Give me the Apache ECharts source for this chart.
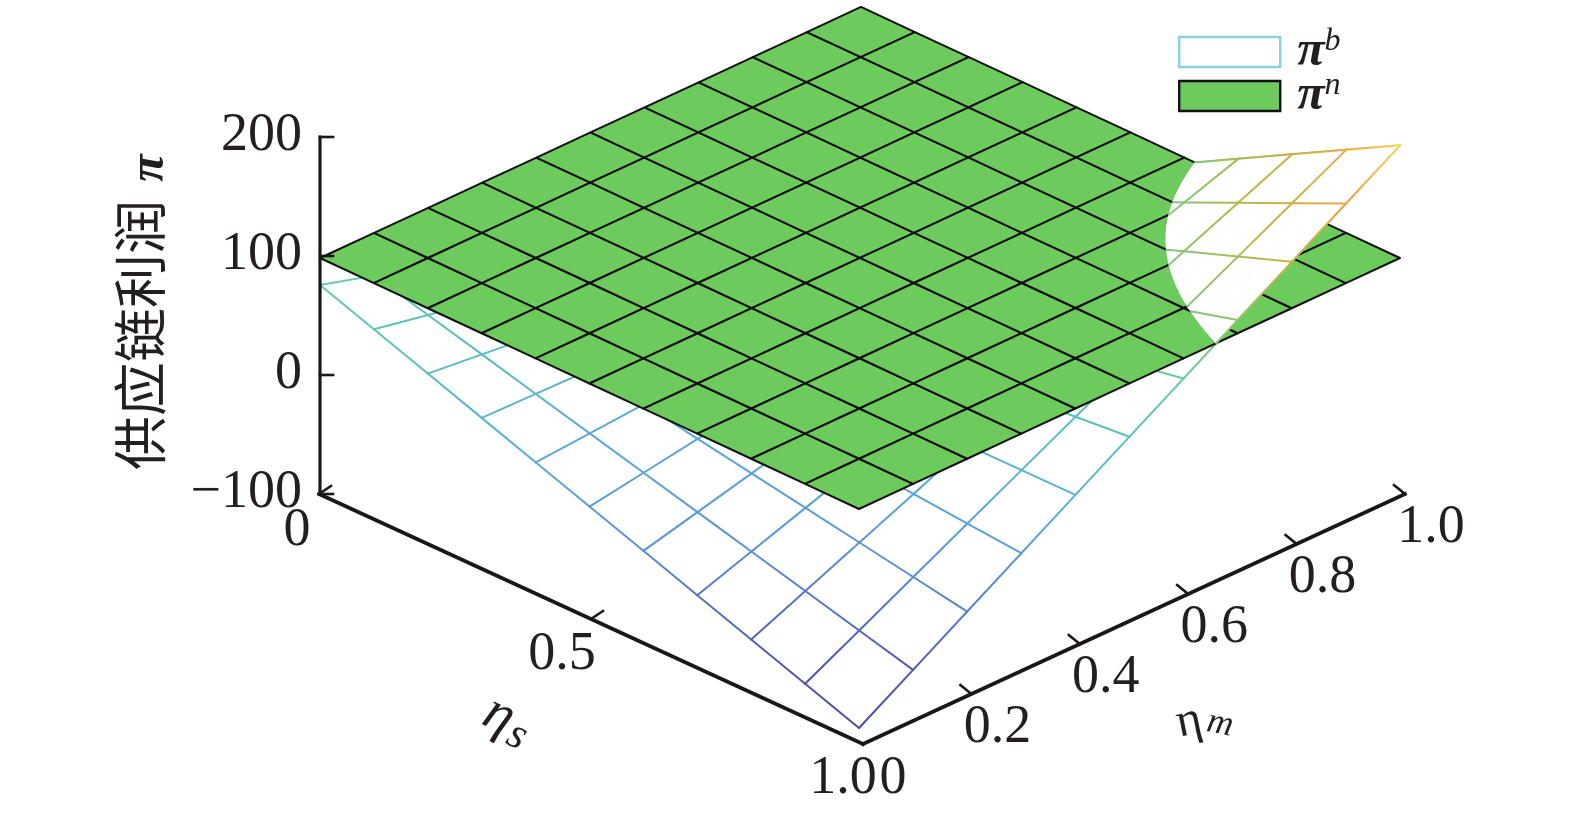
<!DOCTYPE html>
<html>
<head>
<meta charset="utf-8">
<style>html,body{margin:0;padding:0;background:#fff}#c{width:1575px;height:815px}</style>
<script src="https://cdn.jsdelivr.net/npm/echarts@6/dist/echarts.min.js"></script>
</head>
<body>
<div id="c"></div>
<script>
// ---------- data ----------
const etaS = [0, 0.1, 0.2, 0.3, 0.4, 0.5, 0.6, 0.7, 0.8, 0.9, 1.0];
const etaM = [0, 0.1, 0.2, 0.3, 0.4, 0.5, 0.6, 0.7, 0.8, 0.9, 1.0];
// rows: etaM, columns: etaS
const piB = [
  [75.6, 59.4, 43.2, 27.0, 10.7, -5.5, -21.7, -38.0, -54.2, -70.4, -86.6],
  [62.5, 50.4, 38.3, 26.1, 14.0, 1.9, -10.2, -22.3, -34.5, -46.6, -58.7],
  [49.5, 41.5, 33.5, 25.4, 17.4, 9.4, 1.4, -6.6, -14.7, -22.7, -30.7],
  [36.4, 32.5, 28.6, 24.7, 20.8, 16.9, 13.0, 9.0, 5.1, 1.2, -2.7],
  [23.4, 23.6, 23.8, 24.0, 24.2, 24.4, 24.5, 24.7, 24.9, 25.1, 25.3],
  [10.3, 14.6, 18.9, 23.2, 27.5, 31.8, 36.0, 40.3, 44.6, 48.9, 53.2],
  [-2.8, 5.6, 14.0, 22.4, 30.8, 39.2, 47.5, 55.9, 64.3, 72.7, 81.1],
  [-15.8, -3.3, 9.2, 21.7, 34.2, 46.7, 59.2, 71.7, 84.2, 96.7, 109.2],
  [-28.9, -12.3, 4.3, 20.9, 37.5, 54.1, 70.7, 87.3, 103.9, 120.5, 137.1],
  [-41.9, -21.2, -0.5, 20.2, 40.9, 61.6, 82.3, 103.0, 123.7, 144.4, 165.1],
  [-55.0, -30.2, -5.4, 19.4, 44.2, 69.0, 93.8, 118.6, 143.4, 168.2, 193.0]
];
const piN = [
  [98.3, 98.2, 98.1, 98.1, 98.0, 97.9, 97.8, 97.8, 97.7, 97.6, 97.5],
  [98.4, 98.3, 98.2, 98.2, 98.1, 98.0, 97.9, 97.9, 97.8, 97.7, 97.6],
  [98.5, 98.4, 98.3, 98.3, 98.2, 98.1, 98.0, 98.0, 97.9, 97.8, 97.7],
  [98.6, 98.5, 98.4, 98.4, 98.3, 98.2, 98.1, 98.1, 98.0, 97.9, 97.8],
  [98.7, 98.6, 98.5, 98.5, 98.4, 98.3, 98.2, 98.2, 98.1, 98.0, 97.9],
  [98.8, 98.7, 98.6, 98.6, 98.5, 98.4, 98.3, 98.2, 98.2, 98.1, 98.0],
  [98.8, 98.8, 98.7, 98.6, 98.6, 98.5, 98.4, 98.3, 98.3, 98.2, 98.0],
  [98.9, 98.9, 98.8, 98.7, 98.7, 98.6, 98.5, 98.4, 98.4, 98.3, 98.1],
  [99.0, 99.0, 98.9, 98.8, 98.8, 98.7, 98.6, 98.5, 98.5, 98.4, 98.1],
  [99.1, 99.1, 99.0, 98.9, 98.9, 98.8, 98.7, 98.6, 98.6, 98.5, 98.2],
  [99.2, 99.1, 99.0, 99.0, 98.9, 98.8, 98.7, 98.7, 98.6, 98.5, 98.3]
];
const zTicks = [-100, 0, 100, 200];
const zTickLabels = ['\u2212100', '0', '100', '200'];
const sTicks = [0, 0.5];
const sTickLabels = [['0', 0], ['0.5', 0.5], ['1.0', 1.0]];
const mTicks = [0.2, 0.4, 0.6, 0.8, 1.0];
const mTickLabels = [['0', 0], ['0.2', 0.2], ['0.4', 0.4], ['0.6', 0.6], ['0.8', 0.8], ['1.0', 1.0]];
const seriesB = '\u03c0^b';
const seriesN = '\u03c0^n';

// ---------- view: oblique projection of the 3D box onto the page plane ----------
const surfaceView = (s, m, z) => [320 + 539 * s + 541 * m, 375 + 250 * s - 250 * m - 1.19 * z];
const axisView = (s, m) => [319 + 544 * s + 542 * m, 494 + 250 * s - 250 * m];
const zView = z => [320, 375 - 1.19 * z];

const colorStops = [
  [-87, [74, 74, 165]], [-60, [80, 88, 176]], [-40, [86, 112, 196]], [-20, [90, 146, 216]],
  [10, [88, 168, 216]], [30, [88, 184, 200]], [55, [88, 196, 184]], [80, [108, 204, 168]],
  [100, [132, 200, 120]], [125, [181, 184, 72]], [165, [232, 168, 72]], [193, [242, 216, 90]]
];
function colorOf(z) {
  if (z <= colorStops[0][0]) return 'rgb(' + colorStops[0][1].join(',') + ')';
  for (let i = 1; i < colorStops.length; i++) {
    if (z <= colorStops[i][0]) {
      const a = colorStops[i - 1], b = colorStops[i], t = (z - a[0]) / (b[0] - a[0]);
      return 'rgb(' + a[1].map((v, k) => Math.round(v + (b[1][k] - v) * t)).join(',') + ')';
    }
  }
  return 'rgb(' + colorStops[colorStops.length - 1][1].join(',') + ')';
}

const N = etaS.length - 1;
const cells = [];
for (let j = 0; j < N; j++) for (let i = 0; i < N; i++) cells.push([i, j]);
const nodes = [];
for (let j = 0; j <= N; j++) for (let i = 0; i <= N; i++) nodes.push([i, j]);

// surface value inside a cell (u,v in grid units)
function lookup(tbl, u, v) {
  const i = Math.min(N - 1, Math.floor(u)), j = Math.min(N - 1, Math.floor(v));
  const a = u - i, b = v - j;
  return tbl[j][i] * (1 - a) * (1 - b) + tbl[j][i + 1] * a * (1 - b) + tbl[j + 1][i] * (1 - a) * b + tbl[j + 1][i + 1] * a * b;
}
const sAt = u => etaS[0] + (etaS[N] - etaS[0]) * u / N;
const mAt = v => etaM[0] + (etaM[N] - etaM[0]) * v / N;
const gap = (u, v) => lookup(piB, u, v) - lookup(piN, u, v);
const ptB = (api, u, v) => api.coord(surfaceView(sAt(u), mAt(v), lookup(piB, u, v)));
const ptN = (api, u, v) => api.coord(surfaceView(sAt(u), mAt(v), lookup(piN, u, v)));

function meshLine(api, u1, v1, u2, v2) {
  const a = ptB(api, u1, v1), b = ptB(api, u2, v2);
  return {
    type: 'line', shape: { x1: a[0], y1: a[1], x2: b[0], y2: b[1] },
    style: {
      lineWidth: 2, lineCap: 'round',
      stroke: new echarts.graphic.LinearGradient(a[0], a[1], b[0], b[1], [
        { offset: 0, color: colorOf(lookup(piB, u1, v1)) },
        { offset: 1, color: colorOf(lookup(piB, u2, v2)) }
      ], true)
    }
  };
}
function renderB(params, api) {
  const i = api.value(0), j = api.value(1);
  return { type: 'polygon', shape: { points: [ptB(api, i, j), ptB(api, i + 1, j), ptB(api, i + 1, j + 1), ptB(api, i, j + 1)] },
    style: { fill: '#fff', stroke: '#fff', lineWidth: 0.6 } };
}
function renderBLines(params, api) {
  const i = api.value(0), j = api.value(1);
  const children = [];
  if (i < N) children.push(meshLine(api, i, j, i + 1, j));
  if (j < N) children.push(meshLine(api, i, j, i, j + 1));
  return { type: 'group', children };
}
function renderN(params, api) {
  const i = api.value(0), j = api.value(1);
  return { type: 'polygon', shape: { points: [ptN(api, i, j), ptN(api, i + 1, j), ptN(api, i + 1, j + 1), ptN(api, i, j + 1)] },
    style: { fill: '#6dca5c', stroke: '#111', lineWidth: 2, lineJoin: 'round' } };
}
// where pi^b rises above pi^n it hides the plane again
function clipPoly(pts) {
  const out = [];
  for (let k = 0; k < pts.length; k++) {
    const p = pts[k], q = pts[(k + 1) % pts.length];
    const fp = gap(p[0], p[1]), fq = gap(q[0], q[1]);
    if (fp >= 0) out.push(p);
    if ((fp >= 0) !== (fq >= 0)) {
      const t = fp / (fp - fq);
      out.push([p[0] + (q[0] - p[0]) * t, p[1] + (q[1] - p[1]) * t]);
    }
  }
  return out;
}
function renderAbove(params, api) {
  const i = api.value(0), j = api.value(1);
  const children = [];
  const D = 6;
  for (let a = 0; a < D; a++) for (let b = 0; b < D; b++) {
    const u = i + a / D, v = j + b / D, d = 1 / D;
    const poly = clipPoly([[u, v], [u + d, v], [u + d, v + d], [u, v + d]]);
    if (poly.length > 2) children.push({ type: 'polygon',
      shape: { points: poly.map(p => ptB(api, p[0], p[1])) },
      style: { fill: '#fff', stroke: '#fff', lineWidth: 1 } });
  }
  return { type: 'group', children };
}
function clippedEdge(api, u1, v1, u2, v2) {
  const f1 = gap(u1, v1), f2 = gap(u2, v2);
  if (f1 < 0 && f2 < 0) return null;
  if (f1 >= 0 && f2 >= 0) return meshLine(api, u1, v1, u2, v2);
  const t = f1 / (f1 - f2);
  const um = u1 + (u2 - u1) * t, vm = v1 + (v2 - v1) * t;
  return f1 >= 0 ? meshLine(api, u1, v1, um, vm) : meshLine(api, um, vm, u2, v2);
}
function renderAboveLines(params, api) {
  const i = api.value(0), j = api.value(1);
  const children = [];
  if (i < N) { const e = clippedEdge(api, i, j, i + 1, j); if (e) children.push(e); }
  if (j < N) { const e = clippedEdge(api, i, j, i, j + 1); if (e) children.push(e); }
  return { type: 'group', children };
}

const INK = '#231f20';
const SERIF = '"Liberation Serif","Times New Roman",serif';
const labelFont = '54px ' + SERIF;
const centered = { align: 'center', verticalAlign: 'middle', textAlign: 'center', textVerticalAlign: 'middle' };
function label(api, p, text, dx, dy) {
  const c = api.coord(p);
  return { type: 'text', x: c[0] + dx, y: c[1] + dy,
    style: Object.assign({ text, font: labelFont, fill: INK }, centered) };
}
function stroke(api, p, q, lw) {
  const a = api.coord(p), b = api.coord(q);
  return { type: 'line', shape: { x1: a[0], y1: a[1], x2: b[0], y2: b[1] }, style: { stroke: '#1a1718', lineWidth: lw, lineCap: 'square' } };
}
function tick(api, p, dx, dy) {
  return stroke(api, p, [p[0] + dx, p[1] + dy], 2.6);
}
const sLabelShift = { 0: [-22, 37], 0.5: [-29, 36], 1: [-20, 35] };
function nameText(x, y, rotation, text, font) {
  return { type: 'text', x, y, rotation, style: Object.assign({ text, font, fill: INK }, centered) };
}
function renderAxes(params, api) {
  const ch = [];
  ch.push(stroke(api, zView(zTicks[0]), zView(zTicks[zTicks.length - 1]), 3.2));
  ch.push(stroke(api, axisView(0, 0), axisView(1, 0), 3.6));
  ch.push(stroke(api, axisView(1, 0), axisView(1, 1), 3.6));
  zTicks.forEach((z, k) => {
    ch.push(tick(api, zView(z), 13, 0));
    const t = label(api, zView(z), zTickLabels[k], -18, -1);
    t.style.align = t.style.textAlign = 'right';
    ch.push(t);
  });
  sTicks.forEach(s => ch.push(tick(api, axisView(s, 0), 12, -8)));
  mTicks.forEach(m => ch.push(tick(api, axisView(1, m), -11, -9)));
  sTickLabels.forEach(d => { const o = sLabelShift[d[1]]; ch.push(label(api, axisView(d[1], 0), d[0], o[0], o[1])); });
  mTickLabels.forEach(d => ch.push(d[1] === 0
    ? label(api, axisView(1, 0), d[0], 30, 35)
    : label(api, axisView(1, d[1]), d[0], 26, 34)));
  // axis names
  ch.push(nameText(140, 335, Math.PI / 2, '\u4f9b\u5e94\u94fe\u5229\u6da6', '54px "Noto Sans CJK SC"'));
  ch.push(nameText(150, 168, Math.PI / 2, '\u03c0', 'italic bold 50px ' + SERIF));
  ch.push(nameText(499, 716, -0.45, '\u03b7', 'italic 56px ' + SERIF));
  ch.push(nameText(517, 736, -0.45, 's', 'italic 44px ' + SERIF));
  ch.push(nameText(1189, 722, 0.2, '\u03b7', '48px ' + SERIF));
  ch.push(nameText(1220, 724, -0.2, 'm', 'italic 36px ' + SERIF));
  return { type: 'group', children: ch };
}

const chart = echarts.init(document.getElementById('c'), null, { renderer: 'canvas' });
const layer = (name, data, renderItem, z) => ({
  type: 'custom', name, data, renderItem, z, silent: true, clip: false, coordinateSystem: 'cartesian2d',
  encode: { x: 0, y: 1 }, animation: false
});
chart.setOption({
  animation: false,
  backgroundColor: '#fff',
  grid: { left: 0, top: 0, width: 1575, height: 815, containLabel: false },
  xAxis: { type: 'value', min: 0, max: 1575, show: false },
  yAxis: { type: 'value', min: 0, max: 815, inverse: true, show: false },
  tooltip: { show: false },
  legend: {
    left: 1178, top: 15, orient: 'vertical', itemWidth: 101, itemHeight: 30, itemGap: -18, selectedMode: false,
    padding: 0,
    data: [
      { name: seriesB, icon: 'rect', itemStyle: { color: '#fff', borderColor: '#86d2de', borderWidth: 2.4 } },
      { name: seriesN, icon: 'rect', itemStyle: { color: '#6dca5c', borderColor: '#111', borderWidth: 2.4 } }
    ],
    formatter: n => '{p|\u03c0}{s|' + n.split('^')[1] + '}',
    textStyle: {
      padding: 0,
      rich: {
        p: { fontFamily: SERIF, fontStyle: 'italic', fontWeight: 'bold', fontSize: 50, color: INK, lineHeight: 50, height: 50, padding: [12, 0, 0, 12], verticalAlign: 'bottom' },
        s: { fontFamily: SERIF, fontStyle: 'italic', fontSize: 32, color: INK, lineHeight: 30, height: 30, verticalAlign: 'top' }
      }
    }
  },
  series: [
    layer(seriesB, cells, renderB, 2),
    layer('\u03c0^b mesh', nodes, renderBLines, 3),
    layer(seriesN, cells, renderN, 4),
    layer('\u03c0^b above', cells, renderAbove, 5),
    layer('\u03c0^b above mesh', nodes, renderAboveLines, 6),
    layer('axes', [[0, 0]], renderAxes, 7)
  ]
});
</script>
</body>
</html>
